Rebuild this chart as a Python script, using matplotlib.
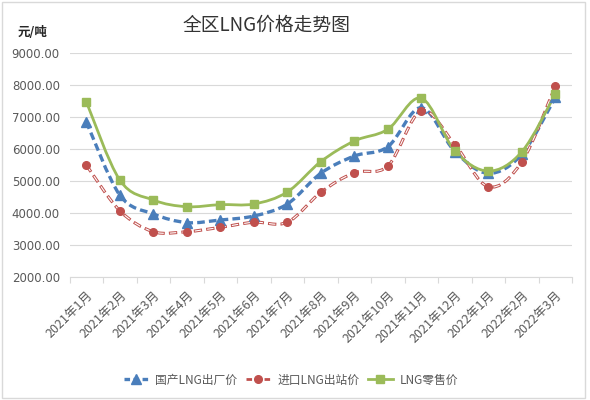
import matplotlib
matplotlib.use("Agg")
import matplotlib.pyplot as plt
from matplotlib.path import Path
from matplotlib.patches import PathPatch, Rectangle
from matplotlib.lines import Line2D
import numpy as np

plt.rcParams['font.family'] = ['Noto Sans CJK SC', 'DejaVu Sans']
plt.rcParams['lines.scale_dashes'] = False

months = ['2021年1月', '2021年2月', '2021年3月', '2021年4月', '2021年5月',
          '2021年6月', '2021年7月', '2021年8月', '2021年9月', '2021年10月',
          '2021年11月', '2021年12月', '2022年1月', '2022年2月', '2022年3月']
domestic = [6860, 4570, 3980, 3710, 3790, 3915, 4290, 5250, 5790, 6080,
            7300, 5930, 5250, 5850, 7625]
imported = [5510, 4080, 3425, 3425, 3560, 3720, 3720, 4655, 5270, 5480,
            7205, 6145, 4830, 5615, 7980]
retail = [7490, 5040, 4415, 4205, 4270, 4290, 4665, 5615, 6260, 6625,
          7595, 5950, 5320, 5925, 7730]
labels = ['国产LNG出厂价', '进口LNG出站价', 'LNG零售价']

BLUE = '#4A7EBB'
RED = '#C0504D'
GREEN = '#9BBB59'
GRAY = '#595959'


def smooth_path(xs, ys):
    # catmull-rom -> cubic bezier, like excel's smoothed line
    pts = np.column_stack([xs, ys]).astype(float)
    verts = [pts[0]]
    codes = [Path.MOVETO]
    n = len(pts)
    for i in range(n - 1):
        p0 = pts[i - 1] if i > 0 else pts[i]
        p1 = pts[i]
        p2 = pts[i + 1]
        p3 = pts[i + 2] if i + 2 < n else pts[i + 1]
        c1 = p1 + (p2 - p0) / 6.0
        c2 = p2 - (p3 - p1) / 6.0
        verts += [c1, c2, p2]
        codes += [Path.CURVE4] * 3
    return Path(verts, codes)


fig = plt.figure(figsize=(5.9, 4.0), dpi=100)
ax = fig.add_axes([0.1178, 0.3068, 0.852, 0.56])

x = np.arange(len(months))

ax.add_patch(PathPatch(smooth_path(x, domestic), fill=False, ec=BLUE, lw=2.4,
                       ls=(0, (5.5, 3)), zorder=3))
ax.plot(x, domestic, ls='none', marker='^', ms=6.5, color=BLUE, zorder=4)

ax.add_patch(PathPatch(smooth_path(x, imported), fill=False, ec=RED, lw=2.2,
                       ls=(0, (6, 3)), capstyle='butt', zorder=3))
ax.add_patch(PathPatch(smooth_path(x, imported), fill=False, ec='white', lw=0.8,
                       ls=(-0.7, (4.6, 4.4)), capstyle='butt', zorder=3))
ax.plot(x, imported, ls='none', marker='o', ms=5.5, color=RED, zorder=4)

ax.add_patch(PathPatch(smooth_path(x, retail), fill=False, ec=GREEN, lw=2.0,
                       zorder=3))
ax.plot(x, retail, ls='none', marker='s', ms=5.8, color=GREEN, zorder=4)

ax.set_xlim(-0.5, len(months) - 0.5)
ax.set_ylim(2000, 9000)
yt = np.arange(2000, 9001, 1000)
ax.set_yticks(yt)
ax.set_yticklabels(['%.2f' % v for v in yt], fontsize=8.5, color=GRAY,
                   family='DejaVu Sans')
ax.set_xticks(x)
ax.set_xticklabels(months, rotation=45, ha='right', va='top',
                   rotation_mode='anchor', fontsize=9, color=GRAY)
ax.set_xticks(np.arange(-0.5, len(months)), minor=True)
ax.tick_params(axis='x', which='major', length=0, pad=8)
ax.tick_params(axis='x', which='minor', length=4, color='#D9D9D9', width=0.8)
ax.tick_params(axis='y', length=0, pad=7)
ax.grid(axis='y', color='#D9D9D9', lw=0.8)
ax.set_axisbelow(True)
for s in ['top', 'right', 'left']:
    ax.spines[s].set_visible(False)
ax.spines['bottom'].set_color('#D9D9D9')

fig.text(0.451, 0.9375, '全区LNG价格走势图', fontsize=13.5, color='#333333',
         ha='center', va='center')
fig.text(0.029, 0.92, '元/吨', fontsize=9, color='#262626', fontweight='bold',
         va='center')

handles = [
    Line2D([], [], color=BLUE, lw=2.4, ls=(0, (4, 2.5)), marker='^', ms=6.5),
    Line2D([], [], color=RED, lw=2.0, ls=(0, (4, 2.5)), marker='o', ms=5.5),
    Line2D([], [], color=GREEN, lw=2.0, marker='s', ms=5.8),
]
leg = fig.legend(handles, labels, loc='center', bbox_to_anchor=(0.493, 0.05),
                 ncol=3, frameon=False, fontsize=8.5, handlelength=2.1,
                 handletextpad=0.6, columnspacing=0.7)
for t in leg.get_texts():
    t.set_color(GRAY)

fig.patches.append(Rectangle((0.0034, 0.006), 0.988, 0.988,
                             transform=fig.transFigure, fill=False,
                             ec='#D9D9D9', lw=1))

fig.savefig('out.png', dpi=100)
